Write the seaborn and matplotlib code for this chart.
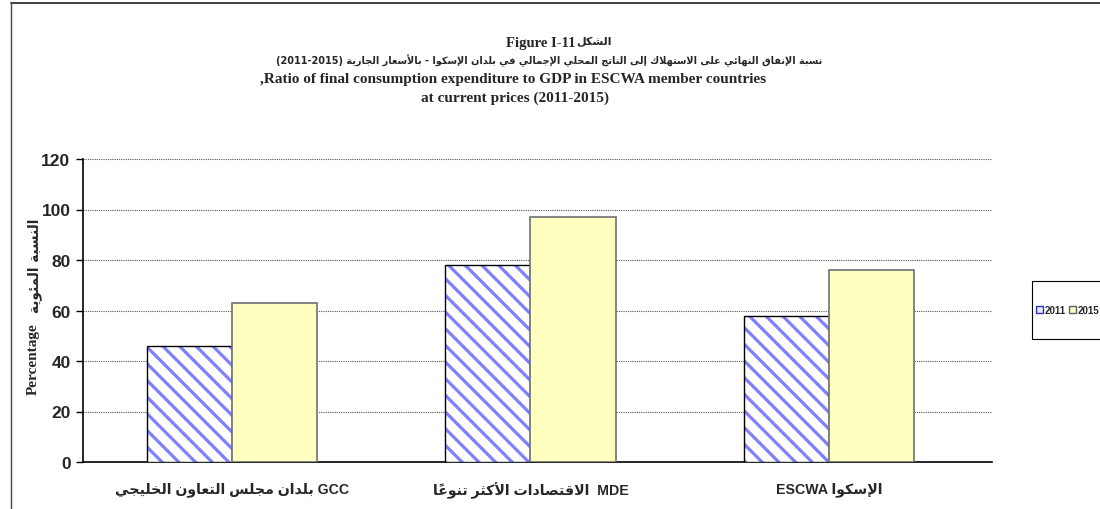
import matplotlib
matplotlib.use("Agg")
import matplotlib.pyplot as plt
from matplotlib.colors import to_rgba
from matplotlib.lines import Line2D
from matplotlib.patches import Patch, Rectangle
import seaborn as sns
import pandas as pd

# ---------------- data ----------------
categories = ["GCC", "MDE", "ESCWA"]
years = ["2011", "2015"]
values_2011 = [46.1, 78.1, 57.7]
values_2015 = [62.8, 97.1, 76.0]
y_ticks = [0, 20, 40, 60, 80, 100, 120]

# ---------------- minimal Arabic shaping (visual order) ----------------
_DUAL = {'ئ': 0xFE89, 'ب': 0xFE8F, 'ت': 0xFE95, 'ث': 0xFE99, 'ج': 0xFE9D, 'ح': 0xFEA1,
         'خ': 0xFEA5, 'س': 0xFEB1, 'ش': 0xFEB5, 'ص': 0xFEB9, 'ض': 0xFEBD, 'ط': 0xFEC1,
         'ظ': 0xFEC5, 'ع': 0xFEC9, 'غ': 0xFECD, 'ف': 0xFED1, 'ق': 0xFED5, 'ك': 0xFED9,
         'ل': 0xFEDD, 'م': 0xFEE1, 'ن': 0xFEE5, 'ه': 0xFEE9, 'ي': 0xFEF1}
_RIGHT = {'آ': 0xFE81, 'أ': 0xFE83, 'ؤ': 0xFE85, 'إ': 0xFE87, 'ا': 0xFE8D, 'ة': 0xFE93,
          'د': 0xFEA9, 'ذ': 0xFEAB, 'ر': 0xFEAD, 'ز': 0xFEAF, 'و': 0xFEED, 'ى': 0xFEEF}
_NONJ = {'ء': 0xFE80}
_LAMALEF = {'آ': 0xFEF5, 'أ': 0xFEF7, 'إ': 0xFEF9, 'ا': 0xFEFB}
_MARKS = set(chr(c) for c in range(0x064B, 0x0653))


def rtl(text):
    units = []
    i = 0
    while i < len(text):
        c = text[i]
        if c in _MARKS and units:
            units[-1]['marks'] += c
            i += 1
            continue
        if c == 'ل' and i + 1 < len(text) and text[i + 1] in _LAMALEF:
            units.append({'base': _LAMALEF[text[i + 1]], 'j': 'R', 'marks': ''})
            i += 2
            continue
        if c in _DUAL:
            units.append({'base': _DUAL[c], 'j': 'D', 'marks': ''})
        elif c in _RIGHT:
            units.append({'base': _RIGHT[c], 'j': 'R', 'marks': ''})
        elif c in _NONJ:
            units.append({'base': _NONJ[c], 'j': 'N', 'marks': ''})
        else:
            units.append({'base': None, 'ch': c, 'j': 'U', 'marks': ''})
        i += 1
    out = []
    for k, u in enumerate(units):
        if u['base'] is None:
            out.append(u['ch'] + u['marks'])
            continue
        prev = units[k - 1] if k > 0 else None
        nxt = units[k + 1] if k + 1 < len(units) else None
        jp = u['j'] in 'DR' and prev is not None and prev['j'] == 'D'
        jn = u['j'] == 'D' and nxt is not None and nxt['j'] in 'DR'
        if jp and jn:
            f = 3
        elif jp:
            f = 1
        elif jn:
            f = 2
        else:
            f = 0
        out.append(chr(u['base'] + f) + u['marks'])
    return ''.join(reversed(out))


cat_labels = [
    rtl("بلدان مجلس التعاون الخليجي") + " GCC",
    rtl("الاقتصادات الأكثر تنوعاً") + "  MDE",
    "ESCWA " + rtl("الإسكوا"),
]
title_l1_en = "Figure I-11"
title_l1_ar = rtl("الشكل")
title_l2 = "(2011-2015) " + rtl("نسبة الإنفاق النهائي على الاستهلاك إلى الناتج المحلي الإجمالي في بلدان الإسكوا - بالأسعار الجارية")
title_l3 = ",Ratio of final consumption expenditure to GDP in ESCWA member countries"
title_l4 = "at current prices (2011-2015)"
ylabel_en = "Percentage"
ylabel_ar = rtl("النسبة المئوية")

# ---------------- figure ----------------
sns.set_theme(style="white")
plt.rcParams['font.family'] = ['Liberation Sans', 'DejaVu Sans']
plt.rcParams['hatch.linewidth'] = 2.3

HATCH_BLUE = "#8080FF"

df = pd.DataFrame({
    "category": categories * 2,
    "year": [years[0]] * 3 + [years[1]] * 3,
    "value": values_2011 + values_2015,
})

fig = plt.figure(figsize=(11, 5.1), dpi=100)
ax = fig.add_axes([83 / 1100, 1 - 463 / 510, (992 - 83) / 1100, (463 - 160) / 510])

sns.barplot(data=df, x="category", y="value", hue="year", order=categories,
            hue_order=years, palette={"2011": "white", "2015": "#FFFFC0"},
            width=0.57, gap=0, errorbar=None, saturation=1, ax=ax, zorder=3,
            legend=False)

for p in ax.containers[0]:
    p.set_edgecolor("black")
    p.set_linewidth(1.0)
    p.set_hatch("\\\\")
    p._hatch_color = to_rgba(HATCH_BLUE)
for p in ax.containers[1]:
    p.set_edgecolor("#707070")
    p.set_linewidth(1.2)

ax.set_ylim(0, 120)
ax.set_xlim(-0.5, 2.547)
ax.set_yticks(y_ticks)
ax.set_yticklabels([str(t) for t in y_ticks], fontsize=12.5, fontweight="bold")
ax.set_xticks(range(len(categories)))
ax.set_xticklabels(cat_labels, fontsize=10.2, fontweight="bold")
ax.tick_params(axis="x", length=0, pad=14)
ax.tick_params(axis="y", length=5, width=1, direction="out", pad=4, left=True, color="black")
ax.yaxis.grid(True, linestyle=(0, (1, 1)), color="#555555", linewidth=0.8, zorder=0)
ax.set_axisbelow(True)
for s in ["top", "right"]:
    ax.spines[s].set_visible(False)
for s in ["left", "bottom"]:
    ax.spines[s].set_color("black")
    ax.spines[s].set_linewidth(1.2)
ax.set_xlabel("")
ax.set_ylabel("")

# legend (frame drawn as a separate box, like the reference)
handles = [Patch(facecolor="#E8E8FF", edgecolor="#3030C0", linewidth=1.0),
           Patch(facecolor="#FFFFC0", edgecolor="#606060", linewidth=1.0)]
leg = fig.legend(handles, years, loc="center left",
                 bbox_to_anchor=(1036 / 1100, 1 - 311 / 510),
                 ncol=2, fontsize=7.0, frameon=False, handlelength=0.75,
                 handleheight=0.75, handletextpad=0.15, columnspacing=0.3,
                 borderpad=0, borderaxespad=0)
for t in leg.get_texts():
    t.set_fontweight("bold")
fig.add_artist(Rectangle((1032 / 1100, 1 - 340 / 510), 80 / 1100, 58 / 510,
                         transform=fig.transFigure, facecolor="none",
                         edgecolor="black", linewidth=0.8, clip_on=False))

# titles
serif = ['Liberation Serif', 'DejaVu Sans']
fig.text(576 / 1100, 1 - 43 / 510, title_l1_en, ha="right", va="center", fontsize=10.5,
         fontweight="bold", family=serif)
fig.text(576 / 1100, 1 - 42 / 510, title_l1_ar, ha="left", va="center", fontsize=8,
         fontweight="bold", family=['DejaVu Sans'])
fig.text(549 / 1100, 1 - 61 / 510, title_l2, ha="center", va="center", fontsize=7.0,
         fontweight="bold", family=['DejaVu Sans'])
fig.text(513 / 1100, 1 - 80 / 510, title_l3, ha="center", va="center", fontsize=11,
         fontweight="bold", family=serif)
fig.text(515 / 1100, 1 - 98 / 510, title_l4, ha="center", va="center", fontsize=11,
         fontweight="bold", family=serif)

# y label: English part then Arabic part (rotated, reading bottom to top)
fig.text(33 / 1100, 1 - 359 / 510, ylabel_en, ha="center", va="center", rotation=90,
         fontsize=11, fontweight="bold", family=serif)
fig.text(35 / 1100, 1 - 266 / 510, ylabel_ar, ha="center", va="center", rotation=90,
         fontsize=9.8, fontweight="bold", family=['DejaVu Sans'])

# chart frame lines
fig.add_artist(Line2D([11 / 1100, 1], [1 - 4 / 510, 1 - 4 / 510], color="#222222", linewidth=1.2))
fig.add_artist(Line2D([11 / 1100, 11 / 1100], [0, 1 - 4 / 510], color="#444444", linewidth=1.0))

fig.savefig("out.png", dpi=100)
